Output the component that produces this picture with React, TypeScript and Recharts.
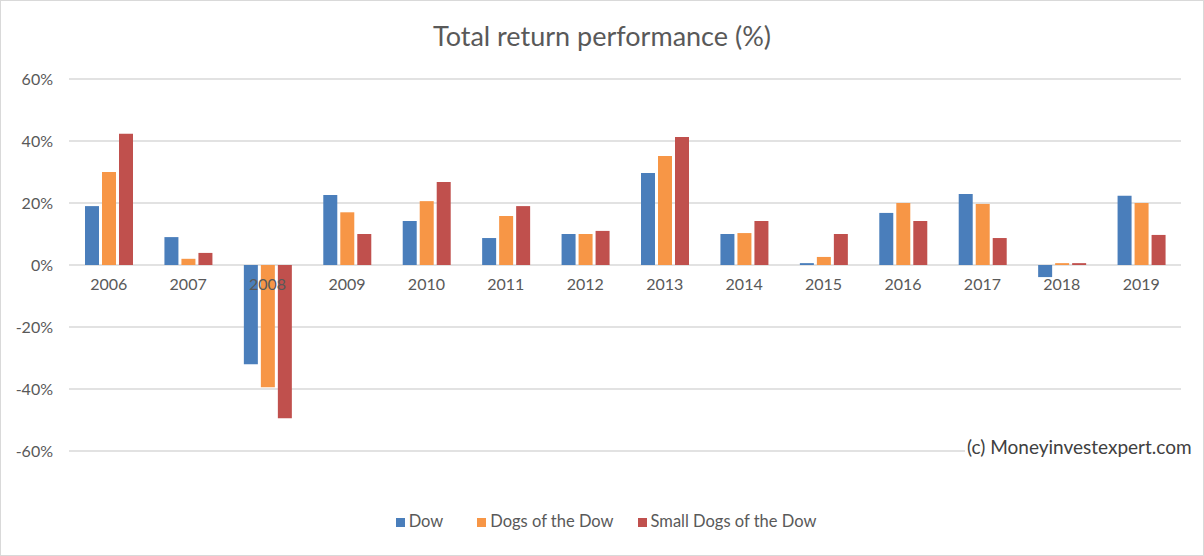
import {
  Bar,
  CartesianGrid,
  ComposedChart,
  LabelList,
  Legend,
  Line,
  YAxis,
  XAxis,
} from "recharts";

const FONT = "Lato, 'Open Sans', sans-serif";
const TEXT = "#595959";

const years = [
  "2006", "2007", "2008", "2009", "2010", "2011", "2012",
  "2013", "2014", "2015", "2016", "2017", "2018", "2019",
];
const dow = [19, 9, -32, 22.6, 14.2, 8.7, 10, 29.7, 10, 0.6, 16.8, 22.9, -3.9, 22.3];
const dogs = [30, 2, -39.4, 17, 20.6, 15.8, 10, 35.2, 10.3, 2.6, 20, 19.7, 0.6, 20];
const smallDogs = [42.3, 3.9, -49.4, 10, 26.8, 19, 11, 41.3, 14.2, 10, 14.2, 8.7, 0.6, 9.7];
const yTicks = [-60, -40, -20, 0, 20, 40, 60];
const seriesNames = ["Dow", "Dogs of the Dow", "Small Dogs of the Dow"];

const data = years.map((year, i) => ({
  year,
  dow: dow[i],
  dogs: dogs[i],
  small: smallDogs[i],
  axis: 0,
}));

/** Category labels sit just under the zero line, like the Excel original. */
function YearLabel(props: any) {
  const { x, y, value } = props;
  return (
    <text
      x={x}
      y={y + 25}
      textAnchor="middle"
      fill={TEXT}
      fontSize={16}
      fontFamily={FONT}
    >
      {value}
    </text>
  );
}

// spacing after each legend entry (Excel leaves a wider slot after "Dow")
const legendGap: Record<string, number> = {
  Dow: 24,
  "Dogs of the Dow": 14,
  "Small Dogs of the Dow": 0,
};

export default function App() {
  return (
    <div
      style={{
        position: "fixed",
        top: 0,
        left: 0,
        width: 1202,
        height: 554,
        border: "1px solid #d9d9d9",
        background: "#fff",
        fontFamily: FONT,
      }}
    >
      <div
        style={{
          position: "absolute",
          top: 18,
          width: "100%",
          textAlign: "center",
          fontSize: 27,
          color: TEXT,
        }}
      >
        Total return performance (%)
      </div>

      <ComposedChart
        width={1202}
        height={554}
        data={data}
        margin={{ top: 78, right: 22, left: 0, bottom: 84 }}
        barSize={14}
        barGap={3}
      >
        <CartesianGrid stroke="#d9d9d9" vertical={false} strokeWidth={1.3} />
        <XAxis dataKey="year" hide />
        <YAxis
          domain={[-60, 60]}
          ticks={yTicks}
          width={68}
          axisLine={false}
          tickLine={false}
          tickSize={0}
          tickMargin={16}
          tick={{ fill: TEXT, fontSize: 16, fontFamily: FONT }}
          tickFormatter={(v: number) => `${v}%`}
        />
        <Legend
          verticalAlign="bottom"
          iconType="square"
          iconSize={9}
          itemSorter={(item: any) => seriesNames.indexOf(item.value)}
          wrapperStyle={{
            bottom: 24,
            paddingLeft: 20,
            fontSize: 16.5,
            fontFamily: FONT,
          }}
          formatter={(value: string) => (
            <span style={{ color: TEXT, marginRight: legendGap[value] }}>
              {value}
            </span>
          )}
        />
        <Bar dataKey="dow" name="Dow" fill="#4a7ebb" isAnimationActive={false} />
        <Bar dataKey="dogs" name="Dogs of the Dow" fill="#f79646" isAnimationActive={false} />
        <Bar dataKey="small" name="Small Dogs of the Dow" fill="#c0504d" isAnimationActive={false} />
        <Line
          dataKey="axis"
          stroke="none"
          dot={false}
          activeDot={false}
          legendType="none"
          isAnimationActive={false}
        >
          <LabelList dataKey="year" content={<YearLabel />} />
        </Line>
      </ComposedChart>

      <div
        style={{
          position: "absolute",
          left: 964,
          top: 434,
          padding: "0 2px",
          background: "#fff",
          fontSize: 19,
          color: "#404040",
        }}
      >
        (c) Moneyinvestexpert.com
      </div>
    </div>
  );
}
